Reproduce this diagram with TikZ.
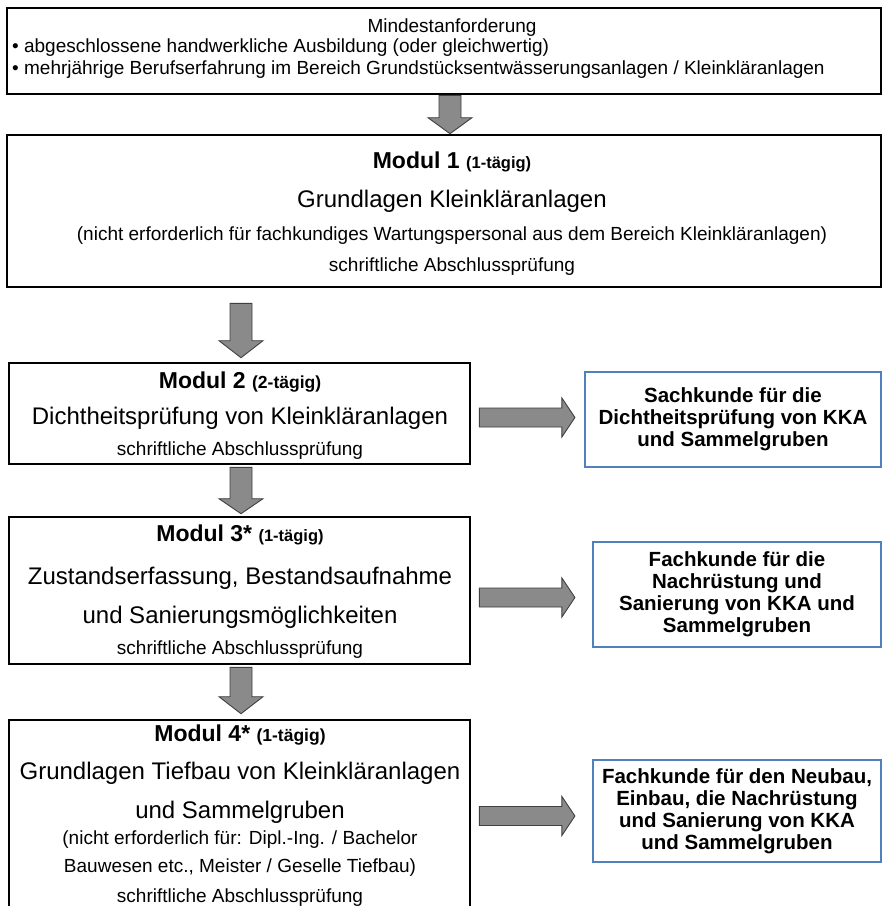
\documentclass[tikz,border=0pt]{standalone}
\usepackage{fontspec}
\setmainfont{Liberation Sans}
\usetikzlibrary{calc}
\definecolor{kkablue}{HTML}{4F81BD}
\definecolor{arrgray}{HTML}{8A8A8A}
\newcommand\vblock[3]{%
  \draw[blockarrow] let \p1=(#1), \p2=(#2) in
    (\x1-11pt,\y1) -- (\x1-11pt,\y2+#3) -- (\x1-22pt,\y2+#3) -- (\x2,\y2)
    -- (\x1+22pt,\y2+#3) -- (\x1+11pt,\y2+#3) -- (\x1+11pt,\y1) -- cycle;}
\newcommand\hblock[3]{%
  \draw[blockarrow] let \p1=(#1), \p2=(#2) in
    (\x1,\y1+9.5pt) -- (\x2-#3,\y1+9.5pt) -- (\x2-#3,\y1+19.5pt) -- (\x2,\y1)
    -- (\x2-#3,\y1-19.5pt) -- (\x2-#3,\y1-9.5pt) -- (\x1,\y1-9.5pt) -- cycle;}
\begin{document}
\begin{tikzpicture}[x=1pt,y=-1pt,
  modbox/.style={draw=black, line width=2.6pt, fill=white, inner sep=0pt},
  kkabox/.style={draw=kkablue, line width=2.2pt, fill=white, inner sep=0pt, align=center,
    font=\fontsize{20.5}{22}\selectfont\bfseries},
  txt/.style={inner sep=0pt, anchor=center},
  small/.style={txt, font=\fontsize{19}{22}\selectfont},
  big/.style={txt, font=\fontsize{24}{28}\selectfont},
  ttl/.style={txt, font=\fontsize{23}{26}\selectfont\bfseries},
  blockarrow/.style={fill=arrgray, draw=black!75, line width=0.9pt, line join=miter}
]
\useasboundingbox (0,0) rectangle (883,906);
\clip (0,0) rectangle (883,906);
\fill[white] (0,0) rectangle (883,906);

% boxes
\node[modbox, minimum width=874pt, minimum height=86pt] (top) at (444,51) {};
\node[modbox, minimum width=874pt, minimum height=152pt] (m1) at (444,211) {};
\node[modbox, minimum width=461pt, minimum height=101pt] (m2) at (239.5,413.5) {};
\node[modbox, minimum width=461pt, minimum height=147pt] (m3) at (239.5,590.5) {};
\node[modbox, minimum width=461pt, minimum height=200pt] (m4) at (239.5,820) {};

\node[kkabox, minimum width=296pt, minimum height=95pt] (r1) at (733,419.5)
  {Sachkunde für die\\Dichtheitsprüfung von KKA\\und Sammelgruben};
\node[kkabox, minimum width=288pt, minimum height=105pt] (r2) at (737,594.5)
  {Fachkunde für die\\Nachrüstung und\\Sanierung von KKA und\\Sammelgruben};
\node[kkabox, minimum width=288pt, minimum height=102pt] (r3) at (737,811)
  {Fachkunde für den Neubau,\\Einbau, die Nachrüstung\\und Sanierung von KKA\\und Sammelgruben};

% texts top box
\node[small] (t0) at (452,28) {Mindestanforderung};
\node[small, anchor=west] (t1) at (12,48) {• abgeschlossene handwerkliche Ausbildung (oder gleichwertig)};
\node[small, anchor=west] (t2) at (12,70) {• mehrjährige Berufserfahrung im Bereich Grundstücksentwässerungsanlagen / Kleinkläranlagen};

% module 1
\node[ttl] (m1a) at (452,162) {Modul 1 {\fontsize{16.5}{19}\selectfont (1-tägig)}};
\node[big] (m1b) at (452,201) {Grundlagen Kleinkläranlagen};
\node[small] (m1c) at (452,236) {(nicht erforderlich für fachkundiges Wartungspersonal aus dem Bereich Kleinkläranlagen)};
\node[small] (m1d) at (452,267) {schriftliche Abschlussprüfung};

% module 2
\node[ttl] (m2a) at (240,382) {Modul 2 {\fontsize{17.5}{20}\selectfont (2-tägig)}};
\node[big] (m2b) at (240,418) {Dichtheitsprüfung von Kleinkläranlagen};
\node[small] (m2c) at (240,451) {schriftliche Abschlussprüfung};

% module 3
\node[ttl] (m3a) at (240,535) {Modul 3* {\fontsize{16.5}{19}\selectfont (1-tägig)}};
\node[big] (m3b) at (240,578) {Zustandserfassung, Bestandsaufnahme};
\node[big] (m3c) at (240,617) {und Sanierungsmöglichkeiten};
\node[small] (m3d) at (240,650) {schriftliche Abschlussprüfung};

% module 4
\node[ttl] (m4a) at (240,735) {Modul 4* {\fontsize{17.5}{20}\selectfont (1-tägig)}};
\node[big] (m4b) at (240,773) {Grundlagen Tiefbau von Kleinkläranlagen};
\node[big] (m4c) at (240,812) {und Sammelgruben};
\node[small] (m4d) at (240,840) {(nicht erforderlich für: Dipl.-Ing. / Bachelor};
\node[small] (m4e) at (240,868) {Bauwesen etc., Meister / Geselle Tiefbau)};
\node[small] (m4f) at (240,898) {schriftliche Abschlussprüfung};

% vertical block arrows
\coordinate (a1s) at (top.south -| 450,0);
\coordinate (a1e) at (m1.north -| 450,0);
\vblock{a1s}{a1e}{16pt}
\coordinate (a2s) at ($(m1.south -| 241,0)+(0,15)$);
\coordinate (a2e) at ($(m2.north -| 241,0)+(0,-4)$);
\vblock{a2s}{a2e}{17pt}
\coordinate (a3s) at ($(m2.south -| 241,0)+(0,2)$);
\coordinate (a3e) at ($(m3.north -| 241,0)+(0,-2)$);
\vblock{a3s}{a3e}{15pt}
\coordinate (a4s) at ($(m3.south -| 241,0)+(0,2)$);
\coordinate (a4e) at ($(m4.north -| 241,0)+(0,-5)$);
\vblock{a4s}{a4e}{17pt}

% horizontal block arrows
\coordinate (b1s) at ($(m2.east |- 0,417.5)+(8,0)$);
\coordinate (b1e) at ($(r1.west |- 0,417.5)+(-9,0)$);
\hblock{b1s}{b1e}{13pt}
\coordinate (b2s) at ($(m3.east |- 0,597.5)+(8,0)$);
\coordinate (b2e) at ($(r2.west |- 0,597.5)+(-17,0)$);
\hblock{b2s}{b2e}{13pt}
\coordinate (b3s) at ($(m4.east |- 0,816)+(8,0)$);
\coordinate (b3e) at ($(r3.west |- 0,816)+(-17,0)$);
\hblock{b3s}{b3e}{13pt}
\end{tikzpicture}
\end{document}
